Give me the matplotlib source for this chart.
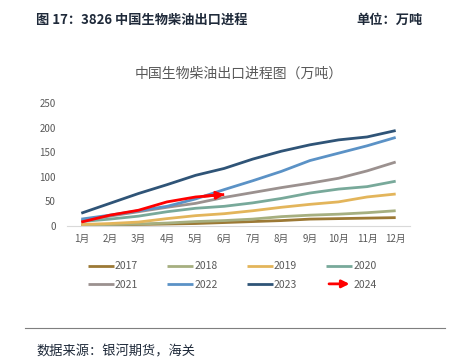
import matplotlib
matplotlib.use("Agg")
import matplotlib.pyplot as plt
from matplotlib.patches import FancyArrowPatch
from matplotlib.legend_handler import HandlerBase
from matplotlib.lines import Line2D

plt.rcParams['font.family'] = ['Noto Sans CJK SC', 'DejaVu Sans']

months = ["1月", "2月", "3月", "4月", "5月", "6月", "7月", "8月", "9月", "10月", "11月", "12月"]
y2017 = [1, 2, 3, 4, 5, 7, 9, 11, 14, 15, 16, 17]
y2018 = [2, 3, 4, 6, 9, 11, 14, 19, 22, 24, 27, 31]
y2019 = [3, 5, 8, 15, 21, 25, 31, 38, 44, 49, 59, 65]
y2020 = [9, 14, 20, 29, 36, 40, 47, 56, 67, 75, 80, 91]
y2021 = [11, 20, 29, 38, 46, 58, 68, 78, 87, 97, 112, 130]
y2022 = [14, 22, 31, 40, 55, 74, 92, 111, 133, 148, 163, 180]
y2023 = [26, 46, 66, 84, 103, 117, 136, 152, 165, 175, 181, 194]
y2024 = [8, 22, 32, 49, 59, 64]

series = [
    ("2017", y2017, "#9C7935"),
    ("2018", y2018, "#A6AF80"),
    ("2019", y2019, "#E3B55B"),
    ("2020", y2020, "#78A99A"),
    ("2021", y2021, "#9B918F"),
    ("2022", y2022, "#5B92C6"),
    ("2023", y2023, "#2F5477"),
]

grey = "#595959"


class ArrowHandler(HandlerBase):
    def create_artists(self, legend, orig_handle, xdescent, ydescent, width, height, fontsize, trans):
        y = height / 2 - ydescent
        a = FancyArrowPatch((-xdescent, y), (width - xdescent, y), arrowstyle='-|>',
                            mutation_scale=11, color='red', lw=2, transform=trans)
        return [a]


class ArrowKey:
    pass


fig = plt.figure(figsize=(4.57, 3.59), dpi=100)
ax = fig.add_axes([0.1466, 0.3705, 0.7505, 0.3426])

x = list(range(1, 13))
handles = []
labels = []
for name, vals, col in series:
    h, = ax.plot(x[:len(vals)], vals, color=col, lw=2.0, solid_capstyle='butt')
    handles.append(h)
    labels.append(name)

x24 = x[:len(y2024)]
ax.plot(x24, y2024, color='red', lw=2.0, solid_capstyle='butt')
ax.annotate('', xy=(x24[-1], y2024[-1]), xytext=(x24[-2] + 0.3, y2024[-2] + 0.3 * (y2024[-1] - y2024[-2])),
            arrowprops=dict(arrowstyle='-|>', color='red', lw=2.0, mutation_scale=11, shrinkA=0, shrinkB=0))
key24 = ArrowKey()
handles.append(key24)
labels.append("2024")

# legend fills column by column; reorder so rows read 2017..2020 / 2021..2024
order = [0, 4, 1, 5, 2, 6, 3, 7]
handles = [handles[i] for i in order]
labels = [labels[i] for i in order]

ax.set_xlim(0.5, 12.5)
ax.set_ylim(0, 250)
ax.set_yticks([0, 50, 100, 150, 200, 250])
ax.set_xticks(x)
ax.set_xticklabels(months)
for s in ["top", "right", "left"]:
    ax.spines[s].set_visible(False)
ax.spines["bottom"].set_color("#D9D9D9")
ax.tick_params(axis='both', length=0, labelsize=7, colors=grey, pad=6)
ax.tick_params(axis='y', pad=8)

ax.set_title("中国生物柴油出口进程图（万吨）", fontsize=10, color=grey, pad=18)

fig.legend(handles, labels, handler_map={ArrowKey: ArrowHandler()}, ncol=4,
           loc='center', bbox_to_anchor=(0.508, 0.233), frameon=False,
           fontsize=7.5, labelcolor=grey, handlelength=2.5, handletextpad=0.1,
           columnspacing=2.8, labelspacing=0.8)

fig.text(36 / 457, 1 - 20 / 359, "图 17：3826 中国生物柴油出口进程", fontsize=9.5,
         fontweight='bold', color="#1F2A3A", va='center', ha='left')
fig.text(423 / 457, 1 - 20 / 359, "单位：万吨", fontsize=9.5,
         fontweight='bold', color="#1F2A3A", va='center', ha='right')
fig.add_artist(Line2D([25 / 457, 445 / 457], [1 - 328 / 359, 1 - 328 / 359], color="#7F7F7F", lw=0.8))
fig.text(36 / 457, 1 - 352 / 359, "数据来源：银河期货，海关", fontsize=9.5,
         color="#1F2A3A", va='center', ha='left')

fig.savefig("out.png", dpi=100)
